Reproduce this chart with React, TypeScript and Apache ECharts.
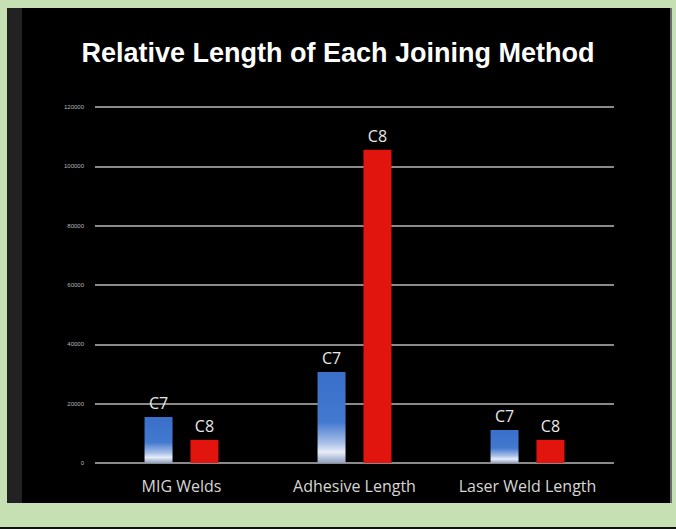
import React, { useEffect, useRef } from "react";
import * as echarts from "echarts";

const categories = ["MIG Welds", "Adhesive Length", "Laser Weld Length"];
const c7Values = [15500, 30700, 11100];
const c8Values = [7800, 105600, 7800];
const yTicks = [0, 20000, 40000, 60000, 80000, 100000, 120000];

export default function App() {
  const ref = useRef<HTMLDivElement>(null);
  useEffect(() => {
    document.body.style.margin = "0";
    const chart = echarts.init(ref.current!, null, { renderer: "svg" });
    const blue = new echarts.graphic.LinearGradient(0, 0, 0, 1, [
      { offset: 0, color: "#3a6fca" },
      { offset: 0.55, color: "#4479d0" },
      { offset: 0.78, color: "#a8bfe8" },
      { offset: 0.88, color: "#e6ecf7" },
      { offset: 1, color: "#8e9fc2" },
    ]);
    chart.setOption({
      animation: false,
      backgroundColor: "#c6e0b4",
      graphic: [
        { type: "rect", shape: { x: 7, y: 8, width: 665, height: 495 }, style: { fill: "#000" }, z: -10 },
        { type: "rect", shape: { x: 7, y: 8, width: 15, height: 495 }, style: { fill: "#222" }, z: -9 },
        { type: "rect", shape: { x: 670, y: 8, width: 2, height: 495 }, style: { fill: "#6a6a6a" }, z: -9 },
        { type: "rect", shape: { x: 0, y: 527, width: 676, height: 2 }, style: { fill: "#111" }, z: -9 },
      ],
      title: {
        text: "Relative Length of Each Joining Method",
        left: "center",
        top: 34,
        textStyle: { color: "#fff", fontSize: 27, fontWeight: "bold", fontFamily: "Liberation Sans, Arial, sans-serif" },
      },
      grid: { left: 95, right: 62, top: 107, bottom: 66 },
      xAxis: {
        type: "category",
        data: categories,
        axisLine: { show: false },
        axisTick: { show: false },
        axisLabel: { interval: 0, hideOverlap: false, color: "#d6d6d6", fontSize: 16, margin: 15, fontFamily: "Open Sans, sans-serif" },
      },
      yAxis: {
        type: "value",
        min: yTicks[0],
        max: yTicks[yTicks.length - 1],
        interval: 20000,
        axisLine: { show: false },
        axisTick: { show: false },
        axisLabel: { color: "#b8b8b8", fontSize: 6, margin: 11, formatter: (v: number) => String(v) },
        splitLine: { lineStyle: { color: "#8a8a8a", width: 2 } },
      },
      series: [
        {
          name: "C7",
          type: "bar",
          data: c7Values,
          barWidth: 28,
          barGap: "64%",
          itemStyle: { color: blue },
          label: { show: true, position: "top", formatter: "C7", color: "#e8e8e8", fontSize: 16, distance: 6, fontFamily: "Open Sans, sans-serif" },
        },
        {
          name: "C8",
          type: "bar",
          data: c8Values,
          barWidth: 28,
          itemStyle: { color: "#e2140e" },
          label: { show: true, position: "top", formatter: "C8", color: "#e8e8e8", fontSize: 16, distance: 6, fontFamily: "Open Sans, sans-serif" },
        },
      ],
    });
    return () => chart.dispose();
  }, []);
  return <div ref={ref} style={{ width: 676, height: 529 }} />;
}
